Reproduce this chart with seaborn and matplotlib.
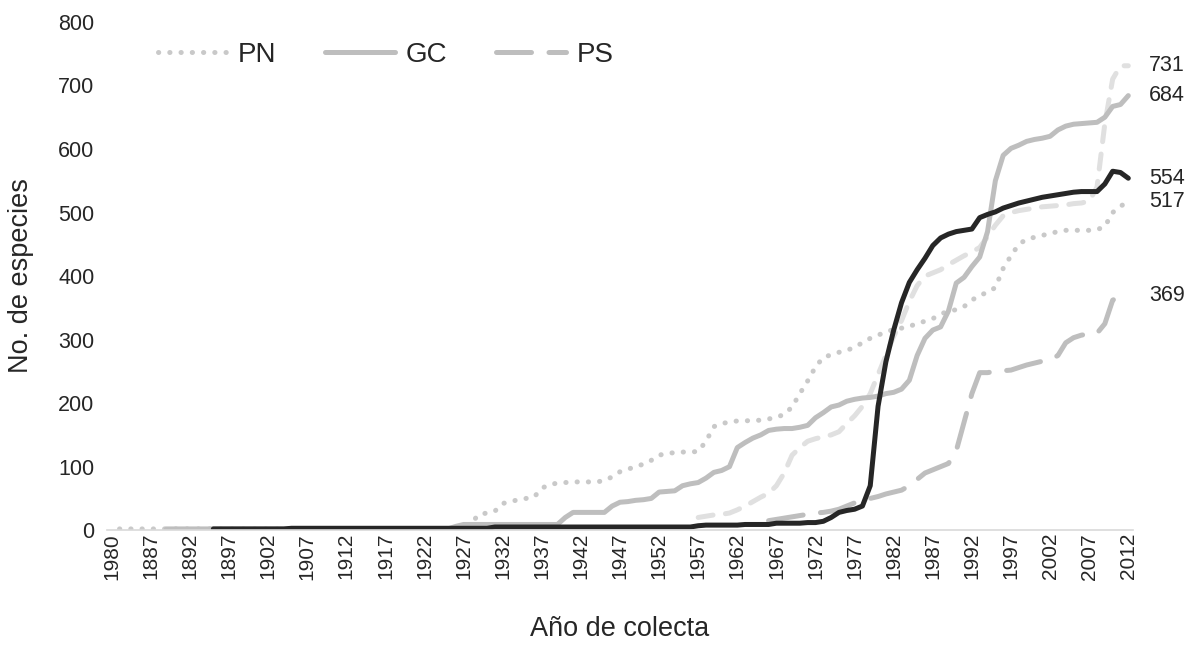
import numpy as np
import pandas as pd
import matplotlib
matplotlib.use("Agg")
import matplotlib.pyplot as plt
import seaborn as sns

# tick labels on the category axis (one category per year, label every 5)
x_labels = ["1980"] + [str(y) for y in range(1887, 2013, 5)]
n_cat = 131

# PN (dotted) starts at category 1
pn_start = 1
pn = [2] * 45 + [12, 25, 27, 30, 42, 45, 48, 50, 52, 66, 72, 74, 75, 76, 76, 76, 76, 78, 84,
                 92, 96, 100, 104, 110, 118, 121, 122, 123, 123, 124, 140, 163, 168, 170,
                 172, 172, 173, 173, 175, 178, 182, 194, 215, 235, 257, 272, 276, 280, 283,
                 288, 295, 302, 307, 312, 316, 318, 321, 325, 329, 333, 340, 345, 347, 352,
                 362, 370, 374, 382, 412, 432, 450, 458, 461, 464, 467, 470, 472, 472, 472,
                 472, 473, 478, 500, 510, 517]

# GC (solid gray) starts at category 7
gc_start = 7
gc = [2] * 37 + [6] + [9] * 13 + [20, 28, 28, 28, 28, 28, 38, 44, 45, 47, 48, 50, 60, 61, 62,
                                  70, 73, 75, 82, 91, 94, 100, 130, 138, 145, 150, 157, 159,
                                  160, 160, 162, 165, 177, 185, 194, 197, 203, 206, 208, 209,
                                  211, 215, 217, 222, 236, 275, 302, 315, 320, 345, 389, 398,
                                  415, 430, 470, 550, 590, 601, 606, 612, 615, 617, 620, 630,
                                  636, 639, 640, 641, 642, 650, 667, 670, 684]

# PS (long dashes) starts at category 84
ps_start = 84
ps = [15, 17, 19, 21, 23, 25, 27, 28, 30, 33, 38, 43, 47, 50, 53, 57, 60, 63, 70, 80, 90, 95,
      100, 105, 125, 170, 215, 248, 248, 250, 251, 252, 256, 260, 263, 266, 268, 275, 295,
      303, 307, 309, 310, 325, 362, 369, 369]

# unlabelled light dashed series, starts at category 75
ld_start = 75
ld = [20, 22, 24, 25, 27, 32, 38, 45, 52, 58, 70, 90, 118, 130, 140, 144, 147, 150, 155, 168,
      180, 195, 215, 245, 275, 305, 330, 360, 385, 400, 405, 410, 418, 425, 432, 438, 445,
      462, 480, 495, 500, 503, 505, 507, 509, 510, 511, 512, 514, 515, 518, 540, 640, 710,
      731, 731]

# unlabelled black series, starts at category 13
bk_start = 13
bk = [2] * 10 + [3] * 26 + [5] * 26 + [7, 8, 8, 8, 8, 8, 9, 9, 9, 9, 11, 11, 11, 11, 12, 12,
                                       14, 20, 28, 31, 33, 38, 70, 195, 265, 315, 358, 390,
                                       410, 428, 448, 460, 466, 470, 472, 474, 492, 497, 501,
                                       507, 511, 515, 518, 521, 524, 526, 528, 530, 532, 533,
                                       533, 533, 545, 565, 563, 554]

end_labels = ["731", "684", "554", "517", "369"]

sns.set_style("white")
plt.rcParams['font.family'] = ['Liberation Sans', 'DejaVu Sans']

fig = plt.figure(figsize=(11.93, 6.45), dpi=100)
ax = fig.add_axes([0.0897, 0.178, 0.860, 0.788])


def series_df(start, vals):
    return pd.DataFrame({'cat': np.arange(start, start + len(vals)), 'val': vals})


lw = 3.6
styles = [
    (pn_start, pn, '#c9c9c9', (0.05, 2.2), 'PN'),
    (gc_start, gc, '#bebebe', None, 'GC'),
    (ps_start, ps, '#bebebe', (7, 3.5), 'PS'),
    (ld_start, ld, '#e0e0e0', (3, 2.5), None),
    (bk_start, bk, '#262626', None, None),
]
order = [3, 0, 2, 1, 4]
handles = {}
for k in order:
    start, vals, col, dash, name = styles[k]
    d = series_df(start, vals)
    sns.lineplot(data=d, x='cat', y='val', ax=ax, color=col, linewidth=lw,
                 solid_capstyle='round', dash_capstyle='round', solid_joinstyle='round')
    line = ax.lines[-1]
    if dash is not None:
        line.set_dashes(dash)
    if name:
        handles[name] = line

ax.set_xlim(-0.6, 130.6)
ax.set_ylim(0, 800)
ax.set_yticks(range(0, 801, 100))
ax.set_xticks(range(0, n_cat, 5))
ax.set_xticklabels(x_labels, rotation=90)
ax.tick_params(axis='both', length=0)
ax.tick_params(axis='x', pad=2, labelsize=15)
ax.tick_params(axis='y', pad=9, labelsize=15.5)
for s in ['top', 'right', 'left']:
    ax.spines[s].set_visible(False)
ax.spines['bottom'].set_color('#d9d9d9')
ax.spines['bottom'].set_linewidth(1.2)

ax.set_xlabel('Año de colecta', fontsize=19.5)
ax.set_ylabel('No. de especies', fontsize=19.5)
ax.xaxis.set_label_coords(0.5, -0.168)
ax.yaxis.set_label_coords(-0.071, 0.5)

finals = [ld[-1], gc[-1], bk[-1], pn[-1], ps[-1]]
for txt, v in zip(end_labels, finals):
    ax.annotate(txt, xy=(130, v), xytext=(15, 0), textcoords='offset points',
                va='center', ha='left', fontsize=15.5, annotation_clip=False)

ax.legend([handles['PN'], handles['GC'], handles['PS']], ['PN', 'GC', 'PS'],
          loc='center left', bbox_to_anchor=(0.025, 0.935), ncol=3, frameon=False,
          fontsize=20, handlelength=2.5, columnspacing=1.75, handletextpad=0.4)

fig.savefig('out.png', dpi=100)
